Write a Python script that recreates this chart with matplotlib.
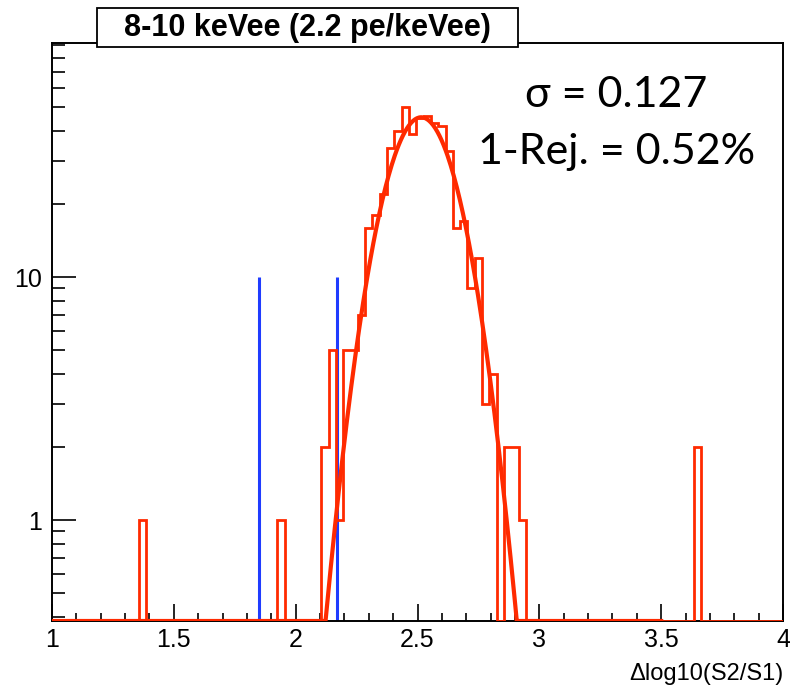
import numpy as np
import matplotlib
matplotlib.use("Agg")
import matplotlib.pyplot as plt
from matplotlib.ticker import MultipleLocator, LogLocator, FixedLocator, NullFormatter, FixedFormatter
from matplotlib.patches import Rectangle

# histogram: bin width 0.03, left edges of the non-empty bins and their counts
bin_width = 0.03
bin_left = [1.355, 1.925,
            2.105, 2.135, 2.165, 2.195, 2.225, 2.255, 2.285, 2.315, 2.345, 2.375,
            2.405, 2.435, 2.465, 2.495, 2.525, 2.555, 2.585, 2.615, 2.645, 2.675,
            2.705, 2.735, 2.765, 2.795, 2.825, 2.855, 2.885, 2.915,
            3.635]
bin_counts = [1, 1,
              2, 5, 1, 5, 5, 7, 16, 18, 22, 34,
              40, 50, 39, 45, 46, 43, 42, 33, 16, 17,
              9, 12, 3, 4, 0, 2, 2, 1,
              2]

# gaussian fit
fit_amp = 45.5
fit_mean = 2.515
fit_sigma = 0.127
fit_range = (1.0, 3.5)

# blue cut lines
cut_x = [1.848, 2.171]
cut_top = 10

title = "8-10 keVee (2.2 pe/keVee)"
sigma_text = "σ = 0.127"
rej_text = "1-Rej. = 0.52%"
xlabel = "Δlog10(S2/S1)"

RED = "#ff2a00"
BLUE = "#1f3cff"
ymin, ymax = 0.384, 92

# full set of bin edges across the axis
edges = np.round(np.arange(1.025 - bin_width, 4.0 + bin_width, bin_width), 3)
counts = np.zeros(len(edges) - 1)
for lo, c in zip(bin_left, bin_counts):
    i = int(round((lo - edges[0]) / bin_width))
    counts[i] = c
edges[0] = 1.0
edges[-1] = min(edges[-1], 4.0)

fig = plt.figure(figsize=(7.9, 6.89), dpi=100)
ax = fig.add_axes([52 / 790, 1 - 621 / 689, 731 / 790, 578 / 689])

# cut lines
for cx in cut_x:
    ax.plot([cx, cx], [ymin, cut_top], color=BLUE, lw=2.2, solid_capstyle="butt", zorder=2)

# histogram
ax.stairs(np.maximum(counts, ymin), edges, baseline=None, color=RED, lw=2.0, zorder=3)

# fit curve
xf = np.linspace(fit_range[0], fit_range[1], 600)
yf = fit_amp * np.exp(-0.5 * ((xf - fit_mean) / fit_sigma) ** 2)
ax.plot(xf, np.maximum(yf, ymin), color=RED, lw=3.0, zorder=3)

ax.set_yscale("log")
ax.set_xlim(1, 4)
ax.set_ylim(ymin, ymax)

ax.xaxis.set_major_locator(FixedLocator([1, 1.5, 2, 2.5, 3, 3.5, 4]))
ax.xaxis.set_major_formatter(FixedFormatter(["1", "1.5", "2", "2.5", "3", "3.5", "4"]))
ax.xaxis.set_minor_locator(MultipleLocator(0.1))

ax.yaxis.set_major_locator(FixedLocator([1, 10]))
ax.yaxis.set_major_formatter(FixedFormatter(["1", "10"]))
ax.yaxis.set_minor_locator(LogLocator(base=10, subs=np.arange(2, 10), numticks=20))
ax.yaxis.set_minor_formatter(NullFormatter())

ax.tick_params(axis="x", which="major", direction="in", length=12, width=1.2, pad=5,
               labelsize=18, top=False)
ax.tick_params(axis="x", which="minor", direction="in", length=6, width=1.2, top=False)
ax.tick_params(axis="y", which="major", direction="in", length=17, width=1.2, pad=7,
               labelsize=18, right=False)
ax.tick_params(axis="y", which="minor", direction="in", length=9, width=1.2, right=False)
for lbl in ax.get_xticklabels() + ax.get_yticklabels():
    lbl.set_family("Liberation Sans")

for s in ax.spines.values():
    s.set_linewidth(1.4)

ax.text(1.0, -0.072, xlabel, transform=ax.transAxes, ha="right", va="top",
        fontsize=17, family="Liberation Sans")

# annotations
ax.text(616 / 790, 1 - 95 / 689, sigma_text, transform=fig.transFigure, ha="center",
        va="center", fontsize=31, family="Lato")
ax.text(617 / 790, 1 - 152 / 689, rej_text, transform=fig.transFigure, ha="center",
        va="center", fontsize=31, family="Lato")

# title box over the frame
box = Rectangle((97 / 790, 1 - 47 / 689), 421 / 790, 39 / 689, transform=fig.transFigure,
                facecolor="white", edgecolor="black", lw=1.3, zorder=10, clip_on=False)
fig.add_artist(box)
fig.text(307.5 / 790, 1 - 28 / 689, title, ha="center", va="center", fontsize=22,
         fontweight="bold", family="Liberation Sans", zorder=11)

fig.savefig("out.png", dpi=100)
